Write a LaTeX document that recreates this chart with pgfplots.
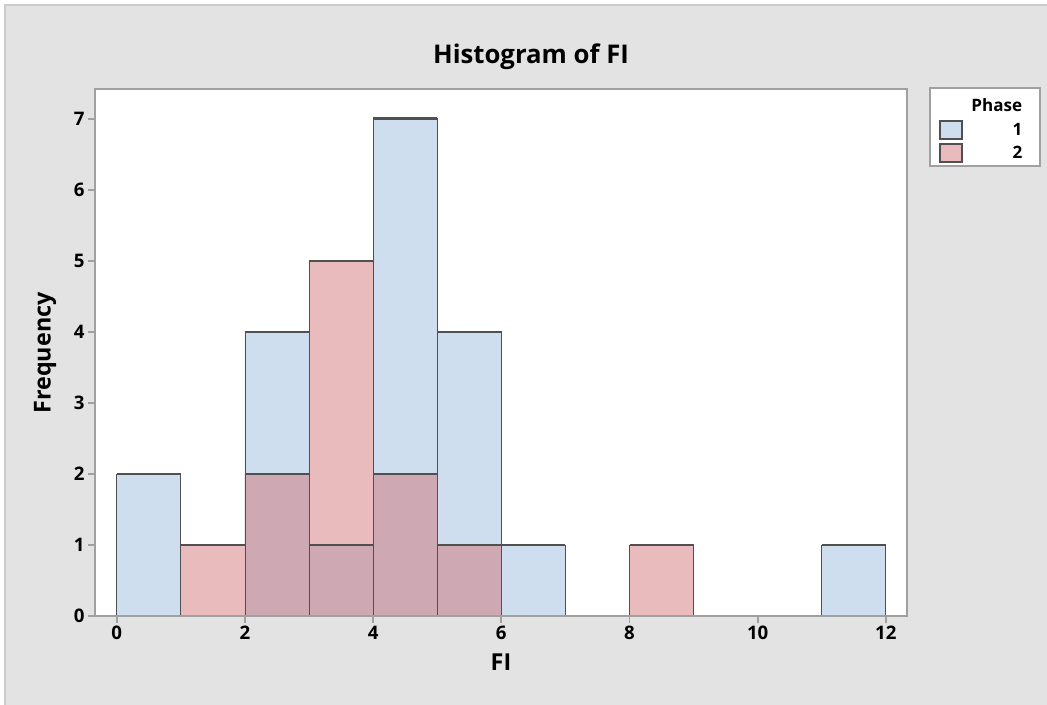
\documentclass[border=0pt]{standalone}
\usepackage{pgfplots}
\pgfplotsset{compat=1.18}
\usepackage{fontspec}
\setmainfont{Open Sans}
\definecolor{bgc}{HTML}{E3E3E3}
\definecolor{bordc}{HTML}{CCCCCC}
\definecolor{framec}{HTML}{A0A0A0}
\definecolor{darkc}{HTML}{505050}
\definecolor{blueb}{HTML}{CFDEEE}
\definecolor{pinkb}{HTML}{E9BBBC}
\definecolor{mauveb}{HTML}{CEA8B2}
\begin{document}
\begin{tikzpicture}[x=0.75pt,y=0.75pt]
\fill[white] (0,0) rectangle (1047,705);
\useasboundingbox (0,0) rectangle (1047,705);
\fill[bgc] (5,0) rectangle (1047,700);
\draw[bordc, line width=1.5] (5,0) -- (5,700) -- (1047,700);
\begin{axis}[
  at={(71.25pt,66.75pt)}, anchor=south west,
  scale only axis, width=609pt, height=395.25pt,
  xmin=-0.34, xmax=12.33, ymin=0, ymax=7.42,
  axis background/.style={fill=white},
  axis on top=true,
  axis line style={draw=framec, line width=1.3pt},
  xtick={0,2,...,12}, ytick={0,...,7},
  xtick pos=bottom, ytick pos=left,
  tick align=outside, major tick length=5.25pt,
  tick style={draw=framec, line width=1.3pt},
  tick label style={font=\fontsize{14}{16}\selectfont\bfseries},
  /pgf/number format/assume math mode=true,
  xticklabel style={yshift=1pt},
  yticklabel style={xshift=1pt},
]
% Phase 1 (blue)
\addplot[ybar, bar width=1, bar shift=0, fill=blueb, draw=darkc, line width=0.6pt]
  coordinates {(0.5,2) (2.5,4) (3.5,1) (4.5,7) (5.5,4) (6.5,1) (11.5,1)};
% Phase 2 (pink)
\addplot[ybar, bar width=1, bar shift=0, fill=pinkb, draw=darkc, line width=0.6pt]
  coordinates {(1.5,1) (2.5,2) (3.5,5) (4.5,2) (5.5,1) (8.5,1)};
% Overlap of both phases
\addplot[ybar, bar width=1, bar shift=0, fill=mauveb, draw=darkc, line width=0.6pt]
  coordinates {(2.5,2) (3.5,1) (4.5,2) (5.5,1)};
% thick top edges
\addplot[darkc, line width=2pt, unbounded coords=jump, mark=none]
  coordinates {(0,2)(1,2)(1,nan)(2,4)(3,4)(3,nan)(3,1)(4,1)(4,nan)(4,7)(5,7)(5,nan)(5,4)(6,4)(6,nan)(6,1)(7,1)(7,nan)(11,1)(12,1)};
\addplot[darkc, line width=2pt, unbounded coords=jump, mark=none]
  coordinates {(1,1)(2,1)(2,nan)(2,2)(3,2)(3,nan)(3,5)(4,5)(4,nan)(4,2)(5,2)(5,nan)(5,1)(6,1)(6,nan)(8,1)(9,1)};
\end{axis}
% titles and labels
\node[font=\fontsize{19.3}{22}\selectfont\bfseries] at (531,648) {Histogram of FI};
\node[font=\fontsize{17.5}{20}\selectfont\bfseries] at (501,43) {FI};
\node[font=\fontsize{17.5}{20}\selectfont\bfseries, rotate=90] at (45,352) {Frequency};
% legend
\draw[framec, line width=0.8pt, fill=white] (930,539) rectangle (1040,617);
\node[font=\fontsize{12.8}{14}\selectfont\bfseries, anchor=east] at (1027,600) {Phase};
\draw[darkc, line width=1.5pt, fill=blueb] (940,566) rectangle (962,584);
\node[font=\fontsize{12.8}{14}\selectfont\bfseries, anchor=east] at (1027,576) {1};
\draw[darkc, line width=1.5pt, fill=pinkb] (940,543) rectangle (962,561);
\node[font=\fontsize{12.8}{14}\selectfont\bfseries, anchor=east] at (1027,553) {2};
\end{tikzpicture}
\end{document}
